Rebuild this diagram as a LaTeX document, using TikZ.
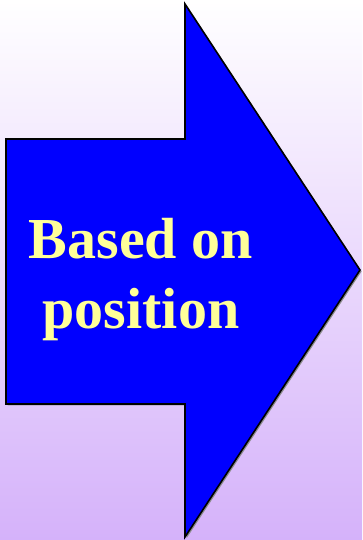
\documentclass[tikz,border=0pt]{standalone}
\usepackage{fontspec}
\setmainfont{Liberation Serif}
\definecolor{bgbottom}{RGB}{213,178,250}
\definecolor{arrowblue}{RGB}{0,0,255}
\definecolor{labelyellow}{RGB}{255,255,153}

\begin{document}
\begin{tikzpicture}[x=1pt, y=1pt]

  % ================= background =================
  \shade[top color=white, bottom color=bgbottom] (0,0) rectangle (362,540);
  \useasboundingbox (0,0) rectangle (362,540);

  % ================= the arrow =================
  \def\arrowshape{(6,401) -- (185,401) -- (185,536) -- (360,270)
      -- (185,3) -- (185,136) -- (6,136) -- cycle}
  \fill[black!45, shift={(1.5,-1.5)}] \arrowshape;   % faint shadow
  \draw[fill=arrowblue, draw=black, line width=1.6pt, line join=miter] \arrowshape;

  % ================= caption =================
  \node[font=\bfseries\fontsize{58}{70}\selectfont, text=labelyellow, align=center]
      (caption) at (141,260) {Based on\\position};

\end{tikzpicture}
\end{document}
